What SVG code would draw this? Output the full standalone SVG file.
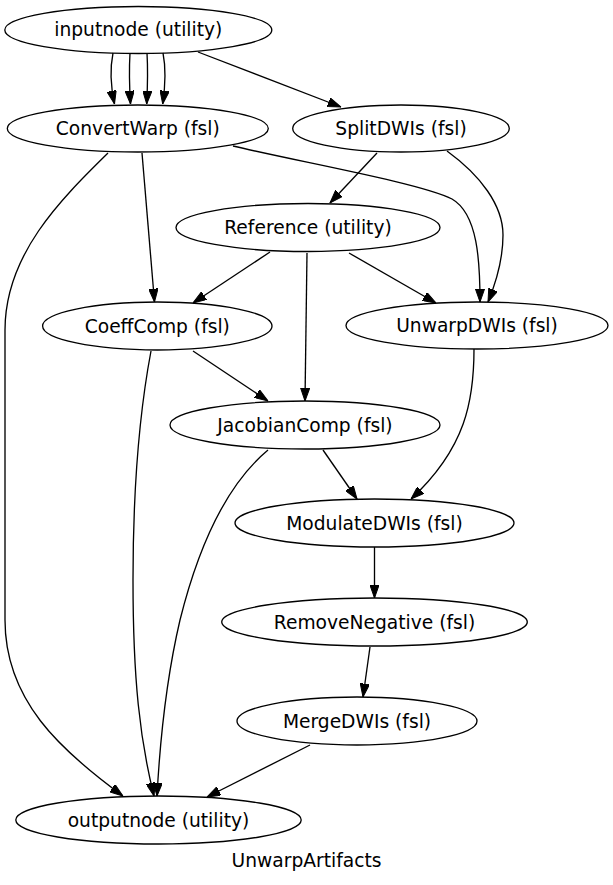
<svg xmlns="http://www.w3.org/2000/svg" width="613" height="885" viewBox="0 0 613 885">
<style>
.n ellipse{fill:none;stroke:#000;stroke-width:1.33}
.n text,.lbl{font-family:"DejaVu Sans",sans-serif;font-size:18.67px;text-anchor:middle;fill:#000}
.e path{fill:none;stroke:#000;stroke-width:1.33;marker-end:url(#a)}
</style>
<defs>
<marker id="a" viewBox="0 0 13.3 9.34" refX="13.3" refY="4.67" markerWidth="13.3" markerHeight="9.34" markerUnits="userSpaceOnUse" orient="auto">
<path d="M0,0 L13.3,4.67 L0,9.34 Z" fill="#000" stroke="#000" stroke-width="1"/>
</marker>
</defs>
<rect width="613" height="885" fill="#fff"/>
<g id="edges" class="e">
<path d="M113,53 C110,68 111,88 114.5,104"/>
<path d="M130,53 C129,70 129.5,88 130.5,104"/>
<path d="M147,53 C148,70 147.5,88 146.7,104"/>
<path d="M163,53 C166,68 165,88 162.7,104"/>
<path d="M198,52 L341,107"/>
<path d="M233,146 C300,162 420,183 452,199 C478,214 480,262 480,302"/>
<path d="M142,153 L154.5,302"/>
<path d="M108,153 C60,200 5,255 5,330 L5,620 C5,700 60,750 123,796"/>
<path d="M377,153 L330,203"/>
<path d="M447,151 C480,175 503,205 503,235 C503,260 495,285 488,302"/>
<path d="M270,252 L193,303"/>
<path d="M307,253 L305,401"/>
<path d="M349,253 L436,303"/>
<path d="M193,351 L268,401"/>
<path d="M151,351 C138,420 133,500 133,580 C133,680 140,740 154,796"/>
<path d="M268,450 C220,490 195,560 180,620 C166,680 160,740 157,796"/>
<path d="M323,450 L357,499"/>
<path d="M474,349 C474,400 466,448 411,499"/>
<path d="M374.5,547 L374.5,598"/>
<path d="M370,647 L363,697"/>
<path d="M310,745 L207,797"/>
</g>
<g id="inputnode" class="n"><ellipse cx="138.3" cy="30" rx="133.5" ry="23.5"/><text x="138.3" y="36">inputnode (utility)</text></g>
<g id="ConvertWarp" class="n"><ellipse cx="137.8" cy="128.5" rx="130.5" ry="23.5"/><text x="137.8" y="135">ConvertWarp (fsl)</text></g>
<g id="SplitDWIs" class="n"><ellipse cx="401" cy="128.5" rx="108.3" ry="23.5"/><text x="401" y="135">SplitDWIs (fsl)</text></g>
<g id="Reference" class="n"><ellipse cx="308" cy="227.5" rx="132" ry="24"/><text x="308" y="234">Reference (utility)</text></g>
<g id="CoeffComp" class="n"><ellipse cx="157.3" cy="326" rx="114.7" ry="24"/><text x="157.3" y="332.5">CoeffComp (fsl)</text></g>
<g id="UnwarpDWIs" class="n"><ellipse cx="477" cy="325.5" rx="131" ry="23.5"/><text x="477" y="332">UnwarpDWIs (fsl)</text></g>
<g id="JacobianComp" class="n"><ellipse cx="305" cy="425" rx="135" ry="24"/><text x="305" y="431.5">JacobianComp (fsl)</text></g>
<g id="ModulateDWIs" class="n"><ellipse cx="374.5" cy="523" rx="139.5" ry="24"/><text x="374.5" y="529.5">ModulateDWIs (fsl)</text></g>
<g id="RemoveNegative" class="n"><ellipse cx="374.5" cy="622" rx="152.8" ry="24"/><text x="374.5" y="628.5">RemoveNegative (fsl)</text></g>
<g id="MergeDWIs" class="n"><ellipse cx="357" cy="721" rx="120" ry="24"/><text x="357" y="727.5">MergeDWIs (fsl)</text></g>
<g id="outputnode" class="n"><ellipse cx="158.5" cy="820" rx="142.7" ry="24"/><text x="158.5" y="826.5">outputnode (utility)</text></g>
<text class="lbl" x="306.5" y="866.5">UnwarpArtifacts</text>
</svg>
